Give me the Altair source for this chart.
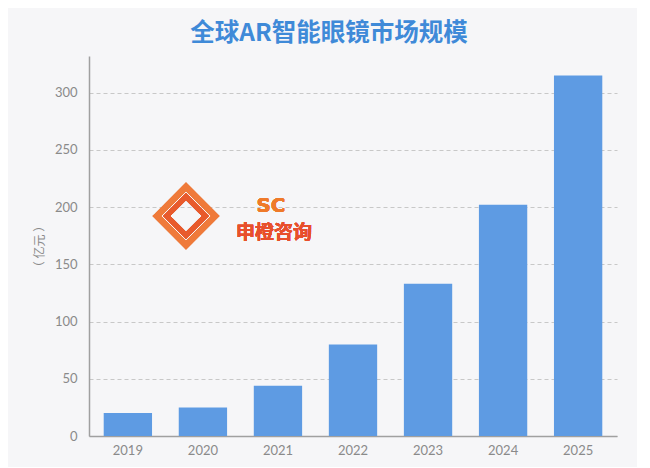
import altair as alt
import pandas as pd

years = ["2019", "2020", "2021", "2022", "2023", "2024", "2025"]
values = [20, 25, 44, 80, 133, 202, 315]
y_ticks = [0, 50, 100, 150, 200, 250, 300]
title_text = "全球AR智能眼镜市场规模"
y_title = "（ 亿元 ）"
wm_en = "SC"
wm_cn = "申橙咨询"

df = pd.DataFrame({"year": years, "value": values})

FONT = "Lato"
GRAY = "#8a8a8a"

bars = alt.Chart(df).mark_bar(color="#5e9be3").encode(
    x=alt.X("year:N", sort=years,
            scale=alt.Scale(paddingInner=0.356, paddingOuter=0.196),
            axis=alt.Axis(title=None, labelAngle=0, labelFont=FONT, labelFontSize=13,
                          labelColor=GRAY, labelPadding=8, ticks=False,
                          domainColor="#a0a0a0", domainWidth=1.5, grid=False)),
    y=alt.Y("value:Q",
            scale=alt.Scale(domain=[0, 332], nice=False),
            axis=alt.Axis(title=y_title, values=y_ticks, labelFont=FONT, labelFontSize=13,
                          labelColor=GRAY, labelPadding=12, ticks=False,
                          titleFont="Noto Sans CJK SC", titleFontSize=12, titleFontWeight="normal",
                          titleColor=GRAY, titlePadding=8,
                          domainColor="#a0a0a0", domainWidth=1.5,
                          grid=True, gridColor="#c8c8c8", gridDash=[4, 3], gridWidth=1)),
)

wm1 = alt.Chart(df).mark_text(text=wm_en, font="DejaVu Sans", fontSize=20, fontWeight="bold",
                               color="#ef7a2a", opacity=0.85).encode(
    x=alt.value(182), y=alt.value(150)
)
wm2 = alt.Chart(df).mark_text(text=wm_cn, font="Noto Sans CJK SC", fontSize=19, fontWeight="bold",
                               color="#e8502c", opacity=0.85).encode(
    x=alt.value(185), y=alt.value(177)
)
logo = alt.Chart(df).mark_point(shape="diamond", filled=False, size=3400, strokeWidth=6,
                                color="#ef7a3a", opacity=0.75).encode(
    x=alt.value(97), y=alt.value(160)
)
logo2 = alt.Chart(df).mark_point(shape="diamond", filled=False, size=1500, strokeWidth=5,
                                 color="#e85a2c", opacity=0.75).encode(
    x=alt.value(97), y=alt.value(160)
)

chart = alt.layer(bars, logo, logo2, wm1, wm2).properties(
    width=528, height=380,
    title=alt.TitleParams(title_text, font="Noto Sans CJK SC", fontSize=24.5, fontWeight="bold",
                          color="#3f8ad8", anchor="middle", offset=10, dx=-24),
    background="#f6f6f8",
    padding={"left": 81, "top": 48, "right": 20, "bottom": 31},
    autosize=alt.AutoSizeParams(type="none"),
).configure_view(stroke=None).configure_title(frame="group")

chart.save("out.html", embed_options={"renderer": "svg", "actions": False})
